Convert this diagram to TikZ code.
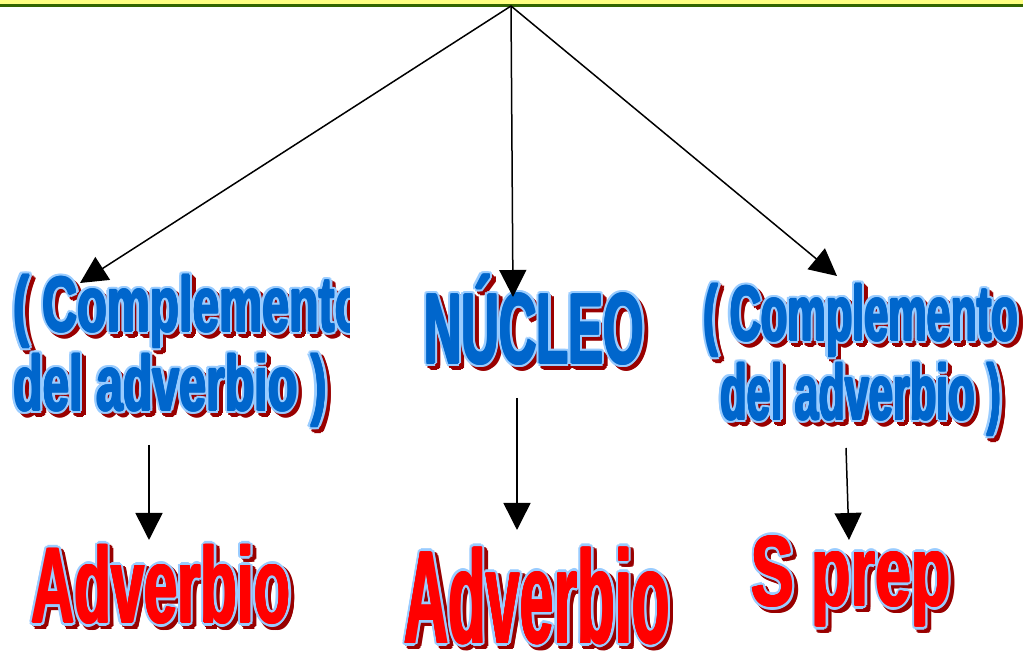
\documentclass[tikz,border=0pt]{standalone}
\usepackage{fontspec}
\usepackage{graphicx}
\setmainfont{Liberation Sans}
\usetikzlibrary{arrows.meta,calc}
\definecolor{wblue}{RGB}{0,102,204}
\definecolor{wlight}{RGB}{153,204,255}
\definecolor{wshadow}{RGB}{153,0,0}
\definecolor{wred}{RGB}{255,0,0}
\definecolor{barGreen}{RGB}{51,102,0}
\definecolor{barYellow}{RGB}{255,255,128}
% #1 size, #2 leading, #3 xscale, #4 yscale, #5 column, #6 text
\newcommand\wbox[6]{\scalebox{#3}[#4]{\fontsize{#1}{#2}\selectfont\bfseries\begin{tabular}{@{}#5@{}}#6\end{tabular}}}
% #1 name, #2 x,y, #3 size, #4 leading, #5 xscale, #6 yscale, #7 fill colour, #8 column, #9 text
\newcommand\wordart[9]{%
  \foreach \a in {0,30,...,330}{
    \node[wtext,text=wshadow] (#1-s\a) at ($(#2)+(\a:3.2)+(3.5,-3.5)$) {\wbox{#3}{#4}{#5}{#6}{#8}{#9}};
  }
  \foreach \a in {0,30,...,330}{
    \node[wtext,text=wlight] (#1-o\a) at ($(#2)+(\a:3.2)$) {\wbox{#3}{#4}{#5}{#6}{#8}{#9}};
  }
  \foreach \a in {0,60,...,300}{
    \node[wtext,text=#7] (#1-f\a) at ($(#2)+(\a:0.9)$) {\wbox{#3}{#4}{#5}{#6}{#8}{#9}};
  }
  \node[wtext,text=#7] (#1) at (#2) {\wbox{#3}{#4}{#5}{#6}{#8}{#9}};
}
\begin{document}
\begin{tikzpicture}[x=1pt,y=1pt,
  wtext/.style={inner sep=0pt,outer sep=0pt},
  arr/.style={line width=1.5pt,-{Triangle[length=27pt,width=27pt]}}]
\useasboundingbox (0,0) rectangle (1023,652);
\fill[white] (0,0) rectangle (1023,652);
% top band
\fill[barYellow] (0,648) rectangle (1023,652);
\fill[barGreen] (0,644.5) rectangle (1023,648);
% texts
\begin{scope}
\clip (0,0) rectangle (349,652);
\wordart{izq}{189,298}{72}{70}{0.67}{1.08}{wblue}{l}{( Complemento\\del adverbio )}
\end{scope}
\wordart{nuc}{534,318}{100}{100}{0.52}{1.0}{wblue}{c}{NÚCLEO}
\wordart{der}{861,289}{72}{70}{0.60}{1.08}{wblue}{c}{( Complemento\\del adverbio )}
\wordart{adv1}{161,52}{98}{98}{0.61}{1.1}{wred}{c}{Adverbio}
\wordart{adv2}{537,37}{120}{120}{0.51}{1.1}{wred}{c}{Adverbio}
\wordart{sprep}{851,66}{100}{100}{0.64}{1.0}{wred}{c}{S prep}
% connector coordinates
\coordinate (top) at (511,646);
\coordinate (tL) at (80,369);
\coordinate (tC) at (513,355);
\coordinate (tR) at (837,376);
\coordinate (bL1) at (149,207);
\coordinate (bL2) at (149,112);
\coordinate (bC1) at (517,254);
\coordinate (bC2) at (517,122);
\coordinate (bR1) at (846,204);
\coordinate (bR2) at (849,112);
\draw[arr] (top) -- (tL);
\draw[arr] (top) -- (tC);
\draw[arr] (top) -- (tR);
\draw[arr] (bL1) -- (bL2);
\draw[arr] (bC1) -- (bC2);
\draw[arr] (bR1) -- (bR2);
\end{tikzpicture}
\end{document}
